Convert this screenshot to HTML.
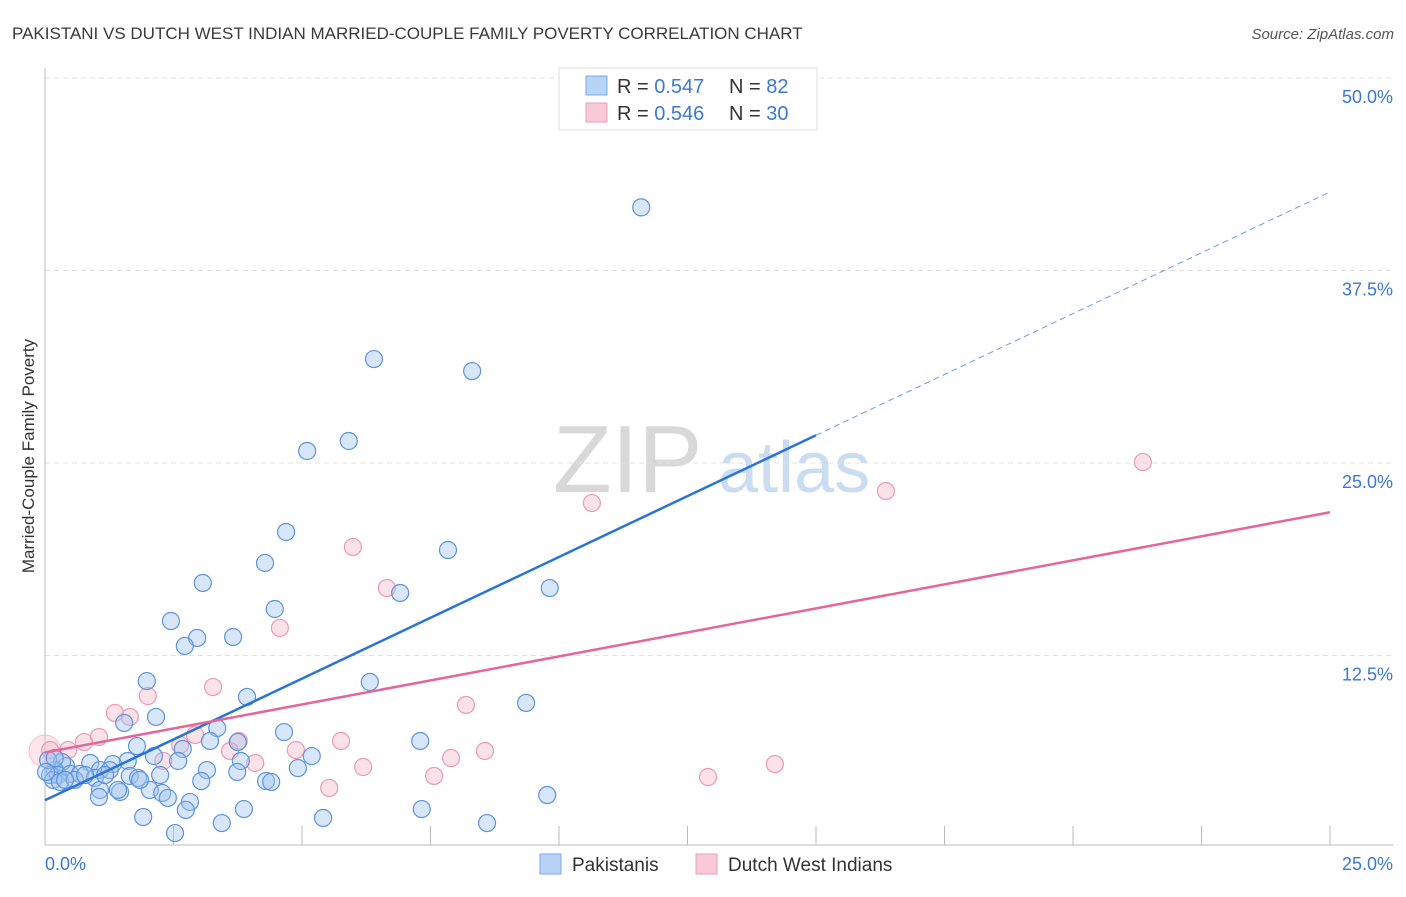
<!DOCTYPE html>
<html><head><meta charset="utf-8"><style>
body{margin:0;background:#fff;font-family:"Liberation Sans",sans-serif;}
svg text{font-family:"Liberation Sans",sans-serif;}
</style></head><body>
<svg id="chart" width="1406" height="892" xmlns="http://www.w3.org/2000/svg">
<text x="12" y="39" font-size="17" fill="#3a3a3a">PAKISTANI VS DUTCH WEST INDIAN MARRIED-COUPLE FAMILY POVERTY CORRELATION CHART</text>
<text x="1394" y="39" font-size="15" fill="#555" text-anchor="end" font-style="italic">Source: ZipAtlas.com</text>
<text x="553" y="492" font-size="96" fill="#d8d8d8" font-family="Liberation Serif">ZIP</text>
<text x="718" y="492" font-size="72" fill="#c9dcf2">atlas</text>
<g id="grid"></g>
<g id="axes"></g>
<text transform="translate(34,456) rotate(-90)" font-size="17" fill="#333" text-anchor="middle">Married-Couple Family Poverty</text>
<g id="points"></g>
<g id="lines"></g>
<g>
<rect x="559" y="68" width="258" height="62" fill="#fff" stroke="#ddd"/>
<rect x="586" y="76" width="21" height="19" fill="#b8d3f5" stroke="#7ea9e6"/>
<rect x="586" y="103" width="21" height="19" fill="#f9c9d7" stroke="#eaa0b8"/>
<text x="617" y="93" font-size="20" fill="#333">R = <tspan fill="#3b78d4">0.547</tspan></text>
<text x="729" y="93" font-size="20" fill="#333">N = <tspan fill="#3b78d4"> 82</tspan></text>
<text x="617" y="120" font-size="20" fill="#333">R = <tspan fill="#3b78d4">0.546</tspan></text>
<text x="729" y="120" font-size="20" fill="#333">N = <tspan fill="#3b78d4">30</tspan></text>
</g>
<g>
<rect x="540" y="854" width="21" height="20" fill="#b8d3f5" stroke="#7ea9e6"/>
<text x="572" y="871" font-size="19" fill="#333">Pakistanis</text>
<rect x="696" y="854" width="21" height="20" fill="#f9c9d7" stroke="#eaa0b8"/>
<text x="728" y="871" font-size="19" fill="#333">Dutch West Indians</text>
</g>
</svg>
<script>
const blueX=[11.6,6.4,8.31,5.91,5.10,4.69,7.84,4.28,9.82,6.91,3.07,4.47,2.45,2.96,3.66,2.72,1.98,6.32,2.16,3.93,9.36,1.54,3.35,4.65,1.79,2.68,3.21,3.75,7.30,5.19,2.12,2.59,3.81,4.92,3.15,3.74,1.61,1.32,0.88,0.41,0.33,0.19,0.10,0.25,0.49,0.68,1.07,1.26,1.65,1.81,2.24,0.16,0.29,0.58,0.97,1.07,1.46,2.04,2.28,2.39,3.04,4.30,4.40,2.82,1.42,1.05,1.91,2.74,3.87,2.53,3.44,5.41,7.33,8.60,9.77,0.06,0.19,0.39,0.78,1.17,0.02,1.85];
const blueY=[41.6,31.75,30.97,26.43,25.78,20.52,19.35,18.51,16.88,16.56,17.21,15.52,14.74,13.64,13.70,13.12,10.84,10.78,8.51,9.81,9.42,8.12,7.79,7.53,6.62,6.43,6.95,6.88,6.95,5.97,5.97,5.65,5.65,5.19,5.06,4.94,5.65,5.45,5.52,5.32,5.58,5.06,4.74,4.74,4.81,4.81,5.06,5.06,4.68,4.55,4.74,4.42,4.29,4.42,4.55,3.77,3.64,3.77,3.57,3.25,4.35,4.35,4.29,2.99,3.77,3.31,2.01,2.47,2.53,0.97,1.62,1.95,2.53,1.62,3.44,5.71,5.84,4.42,4.74,4.74,4.94,4.42];
const pinkX=[21.36,16.36,10.64,5.99,6.65,4.57,3.27,2.00,1.36,1.65,8.19,1.05,0.76,2.63,2.92,3.77,5.76,3.60,4.88,8.56,2.30,7.90,6.19,4.09,5.53,7.57,12.90,14.20,0.10,0.45];
const pinkY=[25.06,23.18,22.40,19.55,16.88,14.29,10.45,9.87,8.77,8.51,9.29,7.21,6.88,6.69,7.34,6.95,6.95,6.30,6.36,6.30,5.65,5.84,5.26,5.52,3.90,4.68,4.61,5.45,6.36,6.36];
const yTicks=[12.5,25.0,37.5,50.0];
const xTickVals=[0,2.5,5,7.5,10,12.5,15,17.5,20,22.5,25];
const blueTrend=[3.1,42.6];
const pinkTrend=[6.2,21.8];
const blueSolidEnd=15;

const NS="http://www.w3.org/2000/svg";
const X=v=>45+v*51.4, Y=v=>848-v*15.4;
function mk(tag,attrs,parent){const e=document.createElementNS(NS,tag);for(const k in attrs)e.setAttribute(k,attrs[k]);parent.appendChild(e);return e;}
const grid=document.getElementById('grid'),axes=document.getElementById('axes'),pts=document.getElementById('points'),lines=document.getElementById('lines');
yTicks.forEach(t=>{
 const l=mk('line',{x1:45,x2:1393,y1:Y(t),y2:Y(t),stroke:'#e0e0e0','stroke-dasharray':'5,4'},grid);
 
 
 const tx=mk('text',{x:1393,y:Y(t)+25,'font-size':18,fill:'#3b78d4','text-anchor':'end'},axes);
 tx.textContent=t.toFixed(1)+'%';
 
 
});
const la=mk('line',{x1:45,x2:45,y1:68,y2:845,stroke:'#bbb'},axes);


const ba=mk('line',{x1:45,x2:1393,y1:845,y2:845,stroke:'#bbb'},axes);


xTickVals.slice(1).forEach(t=>{
 const tk=mk('line',{x1:X(t),x2:X(t),y1:826,y2:845,stroke:'#bbb'},axes);
 
 
});
[[0,'start',45],[25,'end',1393]].forEach(([v,a,px])=>{
 const tx=mk('text',{x:px,y:870,'font-size':18,fill:'#3b78d4','text-anchor':a},axes);
 tx.textContent=v.toFixed(1)+'%';
 
 
});
mk('circle',{cx:X(0),cy:Y(6.3),r:16,fill:'rgba(246,182,200,0.35)',stroke:'rgba(232,144,171,0.5)'},pts);
pinkX.forEach((x,i)=>{
 const c=mk('circle',{cx:X(x),cy:Y(pinkY[i]),r:8.5,fill:'rgba(246,182,200,0.4)',stroke:'#eb9ab3','stroke-width':1.2},pts);
 
 
});
blueX.forEach((x,i)=>{
 const c=mk('circle',{cx:X(x),cy:Y(blueY[i]),r:8.5,fill:'rgba(160,196,240,0.42)',stroke:'#5f93db','stroke-width':1.2},pts);
 
 
});
const bAt=v=>blueTrend[0]+(blueTrend[1]-blueTrend[0])*v/25;
const b1=mk('line',{x1:X(0),y1:Y(blueTrend[0]),x2:X(blueSolidEnd),y2:Y(bAt(blueSolidEnd)),stroke:'#2a74d8','stroke-width':2.5},lines);


const b2=mk('line',{x1:X(blueSolidEnd),y1:Y(bAt(blueSolidEnd)),x2:X(25),y2:Y(blueTrend[1]),stroke:'#6a9ee0','stroke-width':1,'stroke-dasharray':'6,4'},lines);


const p1=mk('line',{x1:X(0),y1:Y(pinkTrend[0]),x2:X(25),y2:Y(pinkTrend[1]),stroke:'#e4669a','stroke-width':2.5},lines);


</script>
</body></html>
